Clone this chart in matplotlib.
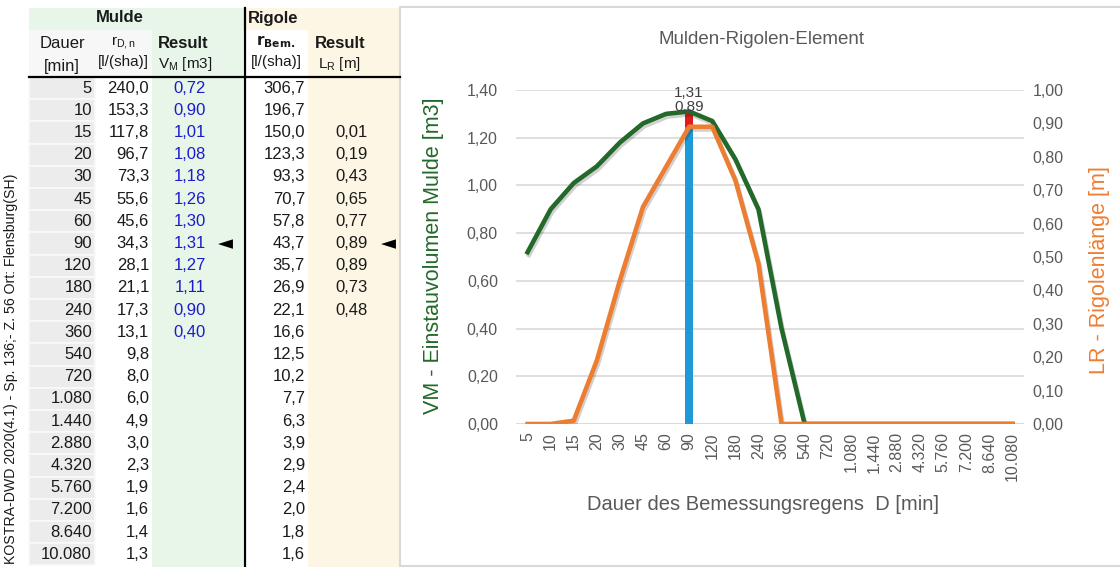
import matplotlib
matplotlib.use('Agg')
import matplotlib.pyplot as plt
from matplotlib import font_manager
from matplotlib.font_manager import FontProperties
from matplotlib.patches import Rectangle
from matplotlib.ticker import FuncFormatter, MultipleLocator
import matplotlib.patheffects as pe
import numpy as np


def has_font(name):
    try:
        font_manager.findfont(FontProperties(family=name), fallback_to_default=False)
        return True
    except ValueError:
        return False


NARROW = 'Liberation Sans Narrow' if has_font('Liberation Sans Narrow') else 'Liberation Sans'
REG = 'Liberation Sans'
plt.rcParams['font.family'] = [NARROW, 'DejaVu Sans']

# ---- data (read from the sheet) ----
dauer = ['5', '10', '15', '20', '30', '45', '60', '90', '120', '180', '240', '360',
         '540', '720', '1.080', '1.440', '2.880', '4.320', '5.760', '7.200', '8.640', '10.080']
r_dn = [240.0, 153.3, 117.8, 96.7, 73.3, 55.6, 45.6, 34.3, 28.1, 21.1, 17.3, 13.1,
        9.8, 8.0, 6.0, 4.9, 3.0, 2.3, 1.9, 1.6, 1.4, 1.3]
vm = [0.72, 0.90, 1.01, 1.08, 1.18, 1.26, 1.30, 1.31, 1.27, 1.11, 0.90, 0.40,
      None, None, None, None, None, None, None, None, None, None]
r_bem = [306.7, 196.7, 150.0, 123.3, 93.3, 70.7, 57.8, 43.7, 35.7, 26.9, 22.1, 16.6,
         12.5, 10.2, 7.7, 6.3, 3.9, 2.9, 2.4, 2.0, 1.8, 1.6]
lr = [None, None, 0.01, 0.19, 0.43, 0.65, 0.77, 0.89, 0.89, 0.73, 0.48, None,
      None, None, None, None, None, None, None, None, None, None]
source = "KOSTRA-DWD 2020(4.1) - Sp. 136;- Z. 56 Ort: Flensburg(SH)"


def de(v, nd):
    return f'{v:.{nd}f}'.replace('.', ',')


GREEN_BG = '#e7f6e9'
CREAM_BG = '#fdf6e4'
GRAY_BG = '#ececec'
TXT = '#1a1a1a'
BLUE_TXT = '#1c1ccc'

fig = plt.figure(figsize=(11.2, 5.67), dpi=100)
bg = fig.add_axes([0, 0, 1, 1])
bg.set_xlim(0, 1120)
bg.set_ylim(567, 0)
bg.axis('off')

# ---- table backgrounds ----
y_top, y_head, row_h = 8, 77, 22.2
bg.add_patch(Rectangle((29, y_top), 215, 22, color=GREEN_BG, lw=0))
bg.add_patch(Rectangle((246, y_top), 154, 22, color=CREAM_BG, lw=0))
bg.add_patch(Rectangle((29, 30), 123, 47, color='#f7f7f7', lw=0))
bg.add_patch(Rectangle((152, y_top), 91, 567 - y_top, color=GREEN_BG, lw=0))
bg.add_patch(Rectangle((308, 30), 92, 567 - 30, color=CREAM_BG, lw=0))
for i in range(len(dauer)):
    bg.add_patch(Rectangle((29, y_head + i * row_h), 66, row_h, facecolor=GRAY_BG,
                           edgecolor='#fafafa', lw=1.2))
bg.plot([29, 400], [76.5, 76.5], color='black', lw=1.6)
bg.plot([244.5, 244.5], [y_top, 567], color='black', lw=1.6)

# ---- table header ----
fs = 12
hs = 11
bg.text(120, 18, 'Mulde', ha='center', va='center', fontsize=fs, fontweight='bold', color=TXT)
bg.text(248, 18, 'Rigole', ha='left', va='center', fontsize=fs, fontweight='bold', color=TXT)
bg.text(62, 43, 'Dauer', ha='center', va='center', fontsize=fs, color=TXT)
bg.text(62, 66, '[min]', ha='center', va='center', fontsize=fs, color=TXT)
bg.text(124, 42, r'$\mathregular{r_{D,n}}$', ha='center', va='center', fontsize=hs, color=TXT)
bg.text(123, 62, '[l/(sha)]', ha='center', va='center', fontsize=hs, color=TXT)
bg.text(183, 43, 'Result', ha='center', va='center', fontsize=fs, fontweight='bold', color=TXT)
bg.text(185, 64, r'$\mathregular{V_M}$ [m3]', ha='center', va='center', fontsize=hs, color=TXT)
bg.text(276, 42, r'$\mathbf{r_{Bem.}}$', ha='center', va='center', fontsize=hs, color=TXT)
bg.text(276, 62, '[l/(sha)]', ha='center', va='center', fontsize=hs, color=TXT)
bg.text(340, 43, 'Result', ha='center', va='center', fontsize=fs, fontweight='bold', color=TXT)
bg.text(340, 64, r'$\mathregular{L_R}$ [m]', ha='center', va='center', fontsize=hs, color=TXT)

# ---- table rows ----
i_max = int(np.argmax([v if v is not None else -1 for v in vm]))
for i, d in enumerate(dauer):
    yc = y_head + (i + 0.5) * row_h
    bg.text(92, yc, d, ha='right', va='center', fontsize=fs, color=TXT)
    bg.text(149, yc, de(r_dn[i], 1), ha='right', va='center', fontsize=fs, color=TXT)
    if vm[i] is not None:
        bg.text(190, yc, de(vm[i], 2), ha='center', va='center', fontsize=fs, color=BLUE_TXT)
    bg.text(305, yc, de(r_bem[i], 1), ha='right', va='center', fontsize=fs, color=TXT)
    if lr[i] is not None:
        bg.text(352, yc, de(lr[i], 2), ha='center', va='center', fontsize=fs, color=TXT)
    if i == i_max:
        bg.text(225, yc, '\u25c4', ha='center', va='center', fontsize=14, color='black',
                family='DejaVu Sans')
        bg.text(388, yc, '\u25c4', ha='center', va='center', fontsize=14, color='black',
                family='DejaVu Sans')

bg.text(11, 564, source, rotation=90, ha='center', va='bottom', fontsize=10.2, color=TXT)

# ---- chart frame and texts ----
bg.add_patch(Rectangle((400, 7), 725, 559, facecolor='white', edgecolor='#d9d9d9', lw=1.5))
bg.text(762, 40, 'Mulden-Rigolen-Element', ha='center', va='center', fontsize=13.5, color='#595959')
bg.text(433, 256, 'VM - Einstauvolumen Mulde [m3]', rotation=90, ha='center', va='center',
        fontsize=15.5, color='#22692a', family=REG)
bg.text(1100, 270, 'LR - Rigolenlänge [m]', rotation=90, ha='center', va='center',
        fontsize=15.5, color='#ed7d31', family=REG)
bg.text(763, 505, 'Dauer des Bemessungsregens  D [min]', ha='center', va='center',
        fontsize=14.5, color='#595959')

# ---- chart ----
x = np.arange(len(dauer))
vm_line = [v if v is not None else 0 for v in vm]
lr_line = [v if v is not None else 0 for v in lr]
vm_bar = [vm_line[i] if i == i_max else 0 for i in x]
lr_bar = [lr_line[i] if i == i_max else 0 for i in x]

ax = fig.add_axes([516 / 1120, (567 - 424) / 567, 508 / 1120, 334 / 567])
ax.set_facecolor('none')
ax2 = ax.twinx()

shadow = [pe.SimpleLineShadow(offset=(1, -2), alpha=0.18, shadow_color='black'), pe.Normal()]
ax.bar(x, vm_bar, width=0.36, color='#e31b1b', zorder=2)
ax.plot(x, vm_line, color='#22692a', lw=3.3, solid_joinstyle='round', zorder=3, path_effects=shadow)
ax2.bar(x, lr_bar, width=0.36, color='#1e9bd7', zorder=2)
ax2.plot(x, lr_line, color='#ed7d31', lw=3.3, solid_joinstyle='round', zorder=3, path_effects=shadow)

ax.annotate(de(vm_line[i_max], 2), (i_max, vm_line[i_max]), xytext=(0, 13.5),
            textcoords='offset points', ha='center', va='center', fontsize=11, color='#404040')
ax2.annotate(de(lr_line[i_max], 2), (i_max, lr_line[i_max]), xytext=(0, 14),
             textcoords='offset points', ha='center', va='center', fontsize=11, color='#404040')

ax.set_xlim(-0.5, len(dauer) - 0.5)
ax.set_ylim(0, 1.4)
ax2.set_ylim(0, 1.0)
ax.yaxis.set_major_locator(MultipleLocator(0.2))
ax2.yaxis.set_major_locator(MultipleLocator(0.1))
ax.yaxis.set_major_formatter(FuncFormatter(lambda v, p: de(v, 2)))
ax2.yaxis.set_major_formatter(FuncFormatter(lambda v, p: de(v, 2)))
ax.set_xticks(x)
ax.set_xticklabels(dauer, rotation=90)
ax.grid(axis='y', color='#d9d9d9', lw=1.2, zorder=0)
ax.set_axisbelow(True)
for a in (ax, ax2):
    for s in a.spines.values():
        s.set_visible(False)
ax.tick_params(axis='y', length=0, pad=13, labelsize=11.5, labelcolor='#595959')
ax2.tick_params(axis='y', length=0, pad=6, labelsize=11.5, labelcolor='#595959')
ax.tick_params(axis='x', length=0, pad=6, labelsize=11.5, labelcolor='#595959')
ax.plot([-0.5, len(dauer) - 0.5], [0, 0], color='#d9d9d9', lw=1.2, zorder=1)

fig.savefig('out.png', dpi=100)
